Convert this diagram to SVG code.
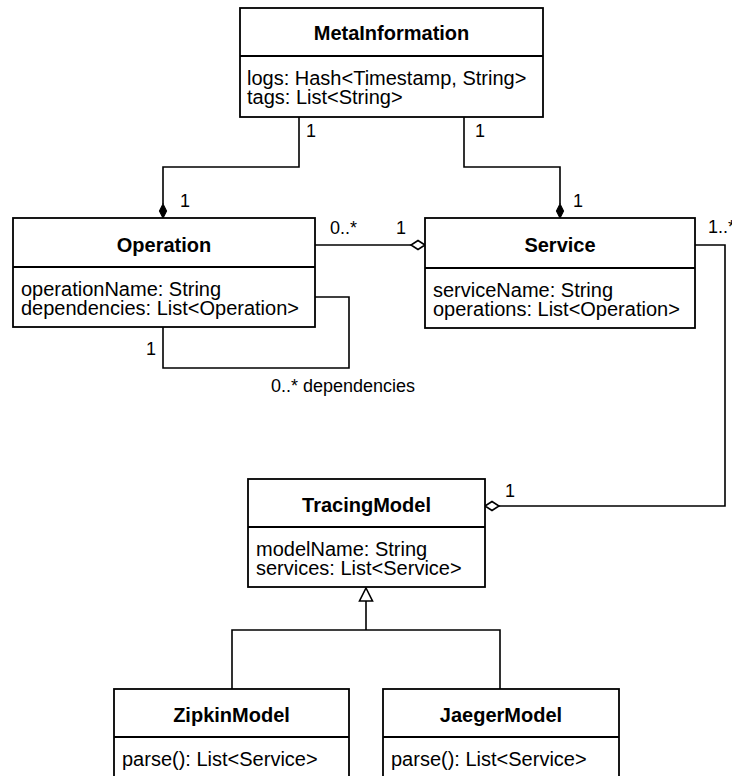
<svg xmlns="http://www.w3.org/2000/svg" width="732" height="776" viewBox="0 0 732 776">
  <style>
    .box { fill: #ffffff; stroke: #000000; stroke-width: 1.8; }
    .div { stroke: #000000; stroke-width: 1.8; }
    .edge { fill: none; stroke: #000000; stroke-width: 1.6; }
    .title { font-family: "Liberation Sans", Arial, sans-serif; font-size: 20px; font-weight: bold; text-anchor: middle; fill: #000000; }
    .attr { font-family: "Liberation Sans", Arial, sans-serif; font-size: 20px; fill: #000000; }
    .lbl { font-family: "Liberation Sans", Arial, sans-serif; font-size: 18px; fill: #000000; }
    .filled { fill: #000000; stroke: #000000; stroke-width: 1.2; }
    .hollow { fill: #ffffff; stroke: #000000; stroke-width: 1.6; }
  </style>
  <rect x="0" y="0" width="732" height="776" fill="#ffffff"/>

  <!-- connectors -->
  <g id="connectors">
    <!-- MetaInformation composes Operation -->
    <path class="edge" d="M299 117 V167 H163 V204"/>
    <polygon class="filled" points="163,218 166.5,211 163,204 159.5,211"/>
    <text class="lbl" x="306" y="137">1</text>
    <text class="lbl" x="180" y="207">1</text>

    <!-- MetaInformation composes Service -->
    <path class="edge" d="M464 117 V167 H560 V204"/>
    <polygon class="filled" points="560,218 563.5,211 560,204 556.5,211"/>
    <text class="lbl" x="475" y="137">1</text>
    <text class="lbl" x="573" y="207">1</text>

    <!-- Service aggregates Operation -->
    <path class="edge" d="M315 245 H411"/>
    <polygon class="hollow" points="425,245 418,240.5 411,245 418,249.5"/>
    <text class="lbl" x="330" y="234">0..*</text>
    <text class="lbl" x="396" y="234">1</text>

    <!-- Operation dependencies self-association -->
    <path class="edge" d="M163 327 V368 H349 V297 H315"/>
    <text class="lbl" x="146" y="355">1</text>
    <text class="lbl" x="271" y="392">0..* dependencies</text>

    <!-- TracingModel aggregates Service -->
    <path class="edge" d="M695 245 H725 V506 H499"/>
    <polygon class="hollow" points="485,506 492,501.5 499,506 492,510.5"/>
    <text class="lbl" x="708" y="233">1..*</text>
    <text class="lbl" x="505" y="497">1</text>

    <!-- generalization to TracingModel -->
    <path class="edge" d="M366 601 V630 M232 689 V630 H500 V689"/>
    <polygon class="hollow" points="366,588 372.5,601 359.5,601"/>
  </g>

  <!-- MetaInformation -->
  <g id="MetaInformation">
    <rect class="box" x="240" y="8" width="303" height="109"/>
    <line class="div" x1="240" y1="56" x2="543" y2="56"/>
    <text class="title" x="391.5" y="40">MetaInformation</text>
    <text class="attr" x="247" y="85">logs: Hash&lt;Timestamp, String&gt;</text>
    <text class="attr" x="247" y="104">tags: List&lt;String&gt;</text>
  </g>

  <!-- Operation -->
  <g id="Operation">
    <rect class="box" x="13" y="218" width="302" height="109"/>
    <line class="div" x1="13" y1="267" x2="315" y2="267"/>
    <text class="title" x="164" y="252">Operation</text>
    <text class="attr" x="21" y="296">operationName: String</text>
    <text class="attr" x="21" y="315">dependencies: List&lt;Operation&gt;</text>
  </g>

  <!-- Service -->
  <g id="Service">
    <rect class="box" x="425" y="218" width="270" height="110"/>
    <line class="div" x1="425" y1="268" x2="695" y2="268"/>
    <text class="title" x="560" y="252">Service</text>
    <text class="attr" x="433" y="297">serviceName: String</text>
    <text class="attr" x="433" y="316">operations: List&lt;Operation&gt;</text>
  </g>

  <!-- TracingModel -->
  <g id="TracingModel">
    <rect class="box" x="248" y="479" width="237" height="108"/>
    <line class="div" x1="248" y1="527" x2="485" y2="527"/>
    <text class="title" x="366.5" y="512">TracingModel</text>
    <text class="attr" x="256" y="556">modelName: String</text>
    <text class="attr" x="256" y="575">services: List&lt;Service&gt;</text>
  </g>

  <!-- ZipkinModel -->
  <g id="ZipkinModel">
    <rect class="box" x="114" y="689" width="235" height="110"/>
    <line class="div" x1="114" y1="737" x2="349" y2="737"/>
    <text class="title" x="231.5" y="722">ZipkinModel</text>
    <text class="attr" x="122" y="766">parse(): List&lt;Service&gt;</text>
  </g>

  <!-- JaegerModel -->
  <g id="JaegerModel">
    <rect class="box" x="383" y="689" width="236" height="110"/>
    <line class="div" x1="383" y1="737" x2="619" y2="737"/>
    <text class="title" x="501" y="722">JaegerModel</text>
    <text class="attr" x="391" y="766">parse(): List&lt;Service&gt;</text>
  </g>
</svg>
